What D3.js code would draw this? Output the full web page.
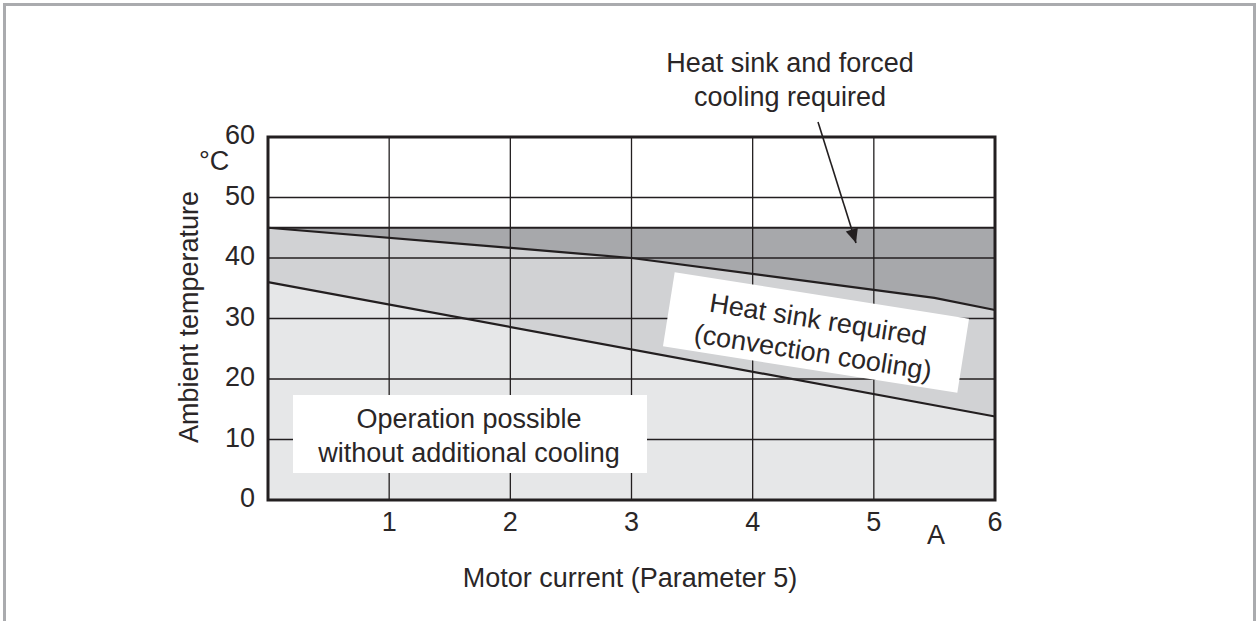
<!DOCTYPE html>
<html><head><meta charset="utf-8">
<script src="https://cdn.jsdelivr.net/npm/d3@7"></script>
<style>body{margin:0;background:#fff}svg{display:block}text{font-family:"Liberation Sans",Arial,sans-serif;fill:#2a2627}</style>
</head><body><svg id="c" width="1257" height="621"></svg>
<script>
const xTicks = [1,2,3,4,5,6];
const yTicks = [0,10,20,30,40,50,60];
const limitTop = [[0,45],[6,45]];
const upperLine = [[0,45],[3,40],[5.5,33.4],[6,31.4]];
const lowerLine = [[0,36],[6,13.8]];
const labelOperation = ["Operation possible","without additional cooling"];
const labelConvection = ["Heat sink required","(convection cooling)"];
const labelForced = ["Heat sink and forced","cooling required"];

const FS = 27;
const svg = d3.select("#c");
const x = d3.scaleLinear().domain([0,6]).range([268,995]);
const y = d3.scaleLinear().domain([0,60]).range([500,137]);

// outer frame
svg.append("path").attr("d","M4.5,621 V4.5 H1254.5 V621").attr("fill","none").attr("stroke","#aaabae").attr("stroke-width",3);

// areas
const area = (top, bot) => {
  const pts = top.map(d=>[x(d[0]),y(d[1])]).concat(bot.slice().reverse().map(d=>[x(d[0]),y(d[1])]));
  return "M"+pts.map(p=>p.join(",")).join("L")+"Z";
};
const bottom = [[0,0],[6,0]];
svg.append("path").attr("d",area(limitTop,upperLine)).attr("fill","#a7a8ab");
svg.append("path").attr("d",area(upperLine,lowerLine)).attr("fill","#d1d2d4");
svg.append("path").attr("d",area(lowerLine,bottom)).attr("fill","#e6e7e8");

// grid
const g = svg.append("g");
g.selectAll(".vx").data(xTicks.slice(0,-1)).join("line")
  .attr("x1",d=>x(d)).attr("x2",d=>x(d)).attr("y1",y(60)).attr("y2",y(0))
  .attr("stroke","#231f20").attr("stroke-width",1.3);
g.selectAll(".hy").data(yTicks.slice(1,-1)).join("line")
  .attr("x1",x(0)).attr("x2",x(6)).attr("y1",d=>y(d)).attr("y2",d=>y(d))
  .attr("stroke","#231f20").attr("stroke-width",1.3);

// boundary lines
const line = d3.line().x(d=>x(d[0])).y(d=>y(d[1]));
[limitTop, upperLine, lowerLine].forEach(l=>{
  svg.append("path").attr("d",line(l)).attr("fill","none").attr("stroke","#231f20").attr("stroke-width",2.2);
});

// label boxes
const opBox = svg.append("g");
opBox.append("rect").attr("x",293).attr("y",395).attr("width",354).attr("height",78).attr("fill","#fff");
labelOperation.forEach((t,i)=>opBox.append("text").attr("x",469).attr("y",428+i*34).attr("text-anchor","middle").attr("font-size",FS).text(t));

const cvBox = svg.append("g").attr("transform","translate(816,332.5) rotate(9)");
cvBox.append("rect").attr("x",-149).attr("y",-37.5).attr("width",298).attr("height",75).attr("fill","#fff");
labelConvection.forEach((t,i)=>cvBox.append("text").attr("x",0).attr("y",-4+i*33).attr("text-anchor","middle").attr("font-size",FS).text(t));

// forced annotation
labelForced.forEach((t,i)=>svg.append("text").attr("x",790).attr("y",72+i*34).attr("text-anchor","middle").attr("font-size",FS).text(t));
svg.append("defs").append("marker").attr("id","ah").attr("viewBox","0 0 10 10").attr("refX",10).attr("refY",5)
  .attr("markerWidth",30).attr("markerHeight",14).attr("markerUnits","userSpaceOnUse").attr("orient","auto")
  .append("path").attr("d","M0,0.5 L10,5 L0,9.5 Z").attr("fill","#231f20");
svg.append("line").attr("x1",818).attr("y1",122).attr("x2",856).attr("y2",243).attr("stroke","#231f20").attr("stroke-width",1.6).attr("marker-end","url(#ah)");

// plot frame
svg.append("rect").attr("x",x(0)).attr("y",y(60)).attr("width",x(6)-x(0)).attr("height",y(0)-y(60))
  .attr("fill","none").attr("stroke","#231f20").attr("stroke-width",3);

// axes labels
svg.selectAll(".yt").data(yTicks).join("text").attr("x",255).attr("y",d=>y(d)+7).attr("text-anchor","end").attr("font-size",FS).text(d=>d);
svg.selectAll(".xt").data(xTicks).join("text").attr("x",d=>x(d)).attr("y",531).attr("text-anchor","middle").attr("font-size",FS).text(d=>d);
svg.append("text").attr("x",199).attr("y",170).attr("text-anchor","start").attr("font-size",FS).text("°C");
svg.append("text").attr("x",936).attr("y",544).attr("text-anchor","middle").attr("font-size",FS).text("A");
svg.append("text").attr("transform","translate(198,317) rotate(-90)").attr("text-anchor","middle").attr("font-size",FS).text("Ambient temperature");
svg.append("text").attr("x",630).attr("y",587).attr("text-anchor","middle").attr("font-size",FS).text("Motor current (Parameter 5)");
</script></body></html>
